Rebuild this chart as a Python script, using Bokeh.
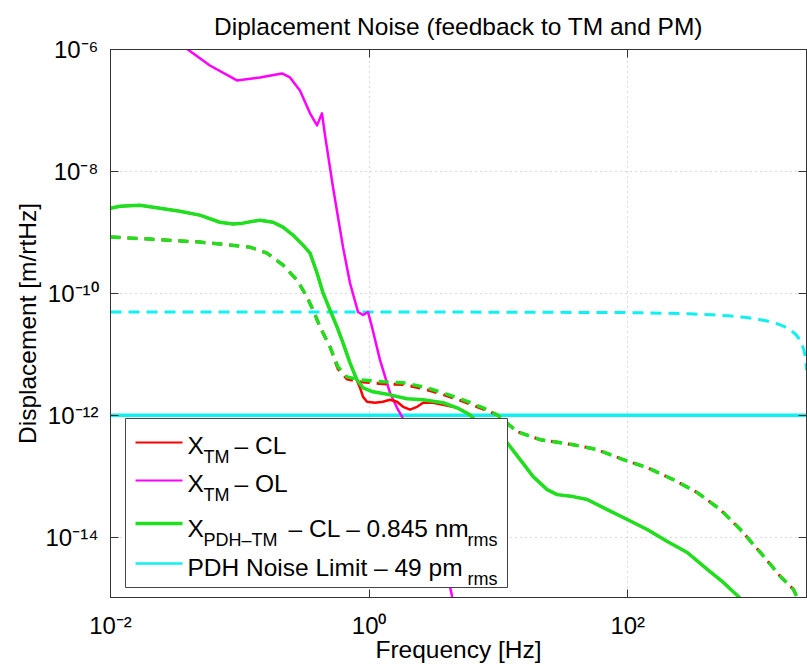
from bokeh.plotting import figure
from bokeh.models import (LogAxis, FixedTicker, CustomJSTickFormatter, Label,
                          BoxAnnotation, Range1d)
from bokeh.embed import file_html
from bokeh.resources import INLINE

FONT = "Liberation Sans"

# ---------------- texts ----------------
title_text = "Diplacement Noise (feedback to TM and PM)"
x_axis_label = "Frequency [Hz]"
y_axis_label = "Displacement [m/rtHz]"

x_ticks = [1e-2, 1e0, 1e2]
x_tick_labels = ["10⁻²", "10⁰", "10²"]
y_ticks = [1e-14, 1e-12, 1e-10, 1e-8, 1e-6]
y_tick_labels = ["10⁻¹⁴", "10⁻¹²", "10⁻¹⁰", "10⁻⁸", "10⁻⁶"]

x_limits = [0.01, 2410]
y_limits = [1.03e-15, 1e-6]

# ---------------- data ----------------
# X_PDH-TM closed loop (green solid)
freq_pdh_cl = [0.01, 0.0118, 0.0169, 0.0241, 0.0344, 0.0491, 0.0701, 0.0885, 0.1057, 0.1431,
               0.1804, 0.2157, 0.2576, 0.3082, 0.3492, 0.3954, 0.4399, 0.498, 0.5645, 0.6281,
               0.7112, 0.8054, 0.8974, 1.072, 1.45, 1.964, 2.614, 3.734, 4.791, 6.036,
               7.614, 8.63, 11.68, 14.72, 18.55, 23.81, 28.47, 37.86, 48.58, 69.36,
               99.1, 141.5, 202.2, 288.6, 412.3, 548.3, 716.1, 811]
disp_pdh_cl = [2.50e-9, 2.69e-9, 2.80e-9, 2.50e-9, 2.23e-9, 1.92e-9, 1.47e-9, 1.37e-9, 1.42e-9, 1.59e-9,
               1.47e-9, 1.22e-9, 9.04e-10, 6.19e-10, 4.58e-10, 2.16e-10, 1.02e-10, 5.35e-11, 2.82e-11, 1.54e-11,
               7.26e-12, 3.83e-12, 2.83e-12, 2.43e-12, 2.17e-12, 1.87e-12, 1.80e-12, 1.61e-12, 1.33e-12, 1.02e-12,
               5.81e-13, 4.82e-13, 3.56e-13, 1.88e-13, 9.89e-14, 6.06e-14, 5.01e-14, 4.65e-14, 4.16e-14, 2.85e-14,
               1.96e-14, 1.34e-14, 8.54e-15, 5.64e-15, 2.97e-15, 1.82e-15, 1.07e-15, 7.94e-16]

# X_TM closed loop (red solid)
freq_tm_cl = [0.01, 0.0118, 0.0169, 0.0241, 0.0344, 0.0491, 0.0701, 0.0885, 0.1057, 0.1431,
              0.1804, 0.2157, 0.2576, 0.3082, 0.3492, 0.3954, 0.4399, 0.498, 0.5645, 0.6281,
              0.7112, 0.8054, 0.8511, 0.8974, 0.9638, 1.109, 1.28, 1.45, 1.643, 1.83,
              2.073, 2.349, 2.614, 3.124, 3.734, 4.791, 6.036, 7.614, 8.63, 11.68,
              14.72, 18.55, 23.81, 28.47, 37.86, 48.58, 69.36, 99.1, 141.5, 202.2,
              288.6, 412.3, 548.3, 716.1, 811]
disp_tm_cl = [2.50e-9, 2.69e-9, 2.80e-9, 2.50e-9, 2.23e-9, 1.92e-9, 1.47e-9, 1.37e-9, 1.42e-9, 1.59e-9,
              1.47e-9, 1.22e-9, 9.04e-10, 6.19e-10, 4.58e-10, 2.16e-10, 1.02e-10, 5.35e-11, 2.82e-11, 1.54e-11,
              7.26e-12, 3.70e-12, 2.83e-12, 2.01e-12, 1.67e-12, 1.61e-12, 1.67e-12, 1.80e-12, 1.67e-12, 1.38e-12,
              1.24e-12, 1.38e-12, 1.61e-12, 1.61e-12, 1.49e-12, 1.33e-12, 1.02e-12, 5.81e-13, 4.82e-13, 3.56e-13,
              1.88e-13, 9.89e-14, 6.06e-14, 5.01e-14, 4.65e-14, 4.16e-14, 2.85e-14, 1.96e-14, 1.34e-14, 8.54e-15,
              5.64e-15, 2.97e-15, 1.82e-15, 1.07e-15, 7.94e-16]

# X_TM open loop (magenta)
freq_tm_ol = [0.0201, 0.0396, 0.0587, 0.095, 0.1431, 0.2118, 0.2443, 0.2918, 0.3492, 0.3954,
              0.4319, 0.456, 0.5255, 0.6281, 0.7112, 0.8204, 0.8974, 0.9795, 1.052, 1.213,
              1.45, 1.643, 1.798, 2.266, 2.96, 3.868, 4.384, 4.71]
disp_tm_ol = [2.87e-6, 1.0e-6, 5.47e-7, 3.11e-7, 3.48e-7, 4.05e-7, 3.48e-7, 2.13e-7, 8.97e-8, 5.70e-8,
              8.97e-8, 3.91e-8, 5.51e-9, 5.74e-10, 1.48e-10, 4.96e-11, 4.43e-11, 4.96e-11, 2.82e-11, 8.13e-12,
              2.34e-12, 1.33e-12, 9.48e-13, 2.54e-13, 3.44e-14, 3.59e-15, 1.07e-15, 6.0e-16]

# cumulative rms curves (dashed)
freq_rms = [0.01, 0.0201, 0.0491, 0.1198, 0.1622, 0.2157, 0.2767, 0.3307, 0.3684, 0.417,
            0.498, 0.5741, 0.6745, 0.8511, 1.28, 1.83, 2.614, 3.734, 5.331, 7.614,
            9.773, 13.96, 21.01, 37.86, 58.05, 92.26, 141.5, 225.0, 345.0, 519.6,
            742.3, 1061, 1515, 1910, 2163]
disp_pdh_rms = [8.38e-10, 7.77e-10, 6.94e-10, 5.74e-10, 4.58e-10, 2.92e-10, 1.66e-10, 8.73e-11, 5.35e-11, 2.82e-11,
                1.33e-11, 6.24e-12, 4.28e-12, 3.83e-12, 3.55e-12, 3.42e-12, 2.94e-12, 2.34e-12, 1.80e-12, 1.33e-12,
                1.02e-12, 5.40e-13, 3.99e-13, 3.30e-13, 2.74e-13, 1.88e-13, 1.39e-13, 8.83e-14, 5.41e-14, 2.85e-14,
                1.34e-14, 5.64e-15, 2.28e-15, 1.40e-15, 7.94e-16]
disp_tm_rms = [8.38e-10, 7.77e-10, 6.94e-10, 5.74e-10, 4.58e-10, 2.92e-10, 1.66e-10, 8.73e-11, 5.35e-11, 2.82e-11,
               1.33e-11, 5.8e-12, 3.95e-12, 3.55e-12, 3.3e-12, 3.2e-12, 2.75e-12, 2.2e-12, 1.7e-12, 1.27e-12,
               1.02e-12, 5.40e-13, 3.99e-13, 3.30e-13, 2.74e-13, 1.88e-13, 1.39e-13, 8.83e-14, 5.41e-14, 2.85e-14,
               1.34e-14, 5.64e-15, 2.28e-15, 1.40e-15, 7.94e-16]

# PDH noise limit (cyan)
freq_limit = [0.01, 2410]
disp_limit = [1e-12, 1e-12]
freq_limit_rms = [0.01, 1, 10, 100, 200, 300, 450, 600, 800, 1000, 1200, 1400, 1600, 1800,
                  2000, 2100, 2200, 2300, 2350, 2380, 2400, 2410]
disp_limit_rms = [4.94e-11, 4.94e-11, 4.93e-11, 4.84e-11, 4.73e-11, 4.63e-11, 4.46e-11, 4.29e-11,
                  4.05e-11, 3.79e-11, 3.52e-11, 3.22e-11, 2.90e-11, 2.53e-11, 2.10e-11, 1.84e-11,
                  1.55e-11, 1.18e-11, 9.5e-12, 7.7e-12, 6.3e-12, 5.5e-12]

# legend entries: (main text, subscript, text after subscript, trailing subscript)
legend_rows = [
    ("X", "TM", "– CL", ""),
    ("X", "TM", "– OL", ""),
    ("X", "PDH–TM", "– CL – 0.845 nm", "rms"),
    ("PDH Noise Limit – 49 pm", "", "", "rms"),
]

RED = "#FF0000"
MAGENTA = "#FF00FF"
GREEN = "#1EE01E"
CYAN = "#10F0F0"
legend_colors = [RED, MAGENTA, GREEN, CYAN]
legend_widths = [2, 2, 3.5, 2.5]

# ---------------- figure ----------------
p = figure(frame_width=696, frame_height=548, x_axis_type="log", y_axis_type="log",
           x_range=Range1d(*x_limits), y_range=Range1d(*y_limits),
           output_backend="svg", toolbar_location=None, title=title_text,
           min_border_left=110, min_border_right=1, min_border_top=49, min_border_bottom=68)
p.background_fill_color = "white"
p.border_fill_color = "white"
p.outline_line_color = "#333333"
p.outline_line_width = 1

p.title.text_font = FONT
p.title.text_font_size = "24.5px"
p.title.text_font_style = "normal"
p.title.text_color = "black"
p.title.align = "center"
p.title.standoff = 19


def fmt(tick_vals, tick_texts):
    return CustomJSTickFormatter(args=dict(tvals=tick_vals, ttexts=tick_texts), code="""
        let best = 0, bd = Infinity;
        for (let i = 0; i < tvals.length; i++) {
            const d = Math.abs(Math.log10(tick) - Math.log10(tvals[i]));
            if (d < bd) { bd = d; best = i; }
        }
        return ttexts[best];
    """)


for ax, tv, tt, lab in ((p.xaxis[0], x_ticks, x_tick_labels, x_axis_label),
                        (p.yaxis[0], y_ticks, y_tick_labels, y_axis_label)):
    ax.ticker = FixedTicker(ticks=tv)
    ax.formatter = fmt(tv, tt)
    ax.axis_label = lab
    ax.major_tick_in = 8
    ax.major_tick_out = 0
    ax.minor_tick_in = 0
    ax.minor_tick_out = 0
    ax.major_label_text_font = FONT
    ax.major_label_text_font_size = "24px"
    ax.major_label_text_color = "black"
    ax.axis_label_text_font = FONT
    ax.axis_label_text_font_size = "24.5px"
    ax.axis_label_text_font_style = "normal"
    ax.axis_label_text_color = "black"
    ax.axis_line_color = "#333333"
    ax.major_tick_line_color = "#333333"

p.xaxis[0].major_label_standoff = 14
p.xaxis[0].axis_label_standoff = -6
p.yaxis[0].major_label_standoff = 12
p.yaxis[0].axis_label_standoff = 2

for loc, tv in (("right", y_ticks), ("above", x_ticks)):
    extra = LogAxis(ticker=FixedTicker(ticks=tv),
                    formatter=CustomJSTickFormatter(code="return ''"),
                    major_tick_in=8, major_tick_out=0, minor_tick_in=0, minor_tick_out=0,
                    major_label_standoff=0, major_label_text_font_size="0px",
                    axis_line_color="#333333", major_tick_line_color="#333333")
    p.add_layout(extra, loc)

p.xgrid.ticker = FixedTicker(ticks=x_ticks)
p.ygrid.ticker = FixedTicker(ticks=y_ticks)
p.grid.grid_line_color = "#b4b4b4"
p.grid.grid_line_dash = "1 4"
p.grid.grid_line_width = 1

# ---------------- curves ----------------
p.line(freq_limit_rms, disp_limit_rms, line_color=CYAN, line_width=3, line_dash="11 7")
p.line(freq_limit, disp_limit, line_color=CYAN, line_width=3.5)
p.line(freq_tm_ol, disp_tm_ol, line_color=MAGENTA, line_width=2.5, line_join="round")
p.line(freq_rms, disp_tm_rms, line_color=RED, line_width=3, line_dash="10 7", line_join="round")
p.line(freq_tm_cl, disp_tm_cl, line_color=RED, line_width=2.5, line_join="round")
p.line(freq_rms, disp_pdh_rms, line_color=GREEN, line_width=3.5, line_dash="10 7", line_join="round")
p.line(freq_pdh_cl, disp_pdh_cl, line_color=GREEN, line_width=3.5, line_join="round")

# ---------------- legend (drawn by hand for subscripts) ----------------
FRAME_LEFT, FRAME_BOTTOM = 110, 597


def sx(px):
    return px - FRAME_LEFT


def sy(py):
    return FRAME_BOTTOM - py


p.add_layout(BoxAnnotation(left=sx(125), right=sx(507), top=sy(418), bottom=sy(587),
                           left_units="screen", right_units="screen",
                           top_units="screen", bottom_units="screen",
                           fill_color="white", fill_alpha=1.0,
                           line_color="#444444", line_width=1, line_alpha=1.0))

row_sample_y = [442, 480, 523, 563]
row_base_y = [445, 483, 528, 567]
for (main, sub, tail, tail_sub), col, lw, ly, by in zip(legend_rows, legend_colors, legend_widths,
                                                        row_sample_y, row_base_y):
    p.add_layout(BoxAnnotation(left=sx(135), right=sx(182), top=sy(ly - lw / 2), bottom=sy(ly + lw / 2),
                               left_units="screen", right_units="screen",
                               top_units="screen", bottom_units="screen",
                               fill_color=col, fill_alpha=1.0, line_alpha=0))
    p.add_layout(Label(x=sx(187), y=sy(by), x_units="screen", y_units="screen", text=main,
                       text_font=FONT, text_font_size="24.5px", text_baseline="alphabetic",
                       text_color="black"))
    if sub:
        p.add_layout(Label(x=sx(203), y=sy(by + 11), x_units="screen", y_units="screen", text=sub,
                           text_font=FONT, text_font_size="18px", text_baseline="alphabetic",
                           text_color="black"))
    if tail:
        tx = 234 if sub == "TM" else 288
        p.add_layout(Label(x=sx(tx), y=sy(by), x_units="screen", y_units="screen", text=tail,
                           text_font=FONT, text_font_size="24.5px", text_baseline="alphabetic",
                           text_color="black"))
    if tail_sub:
        p.add_layout(Label(x=sx(467), y=sy(by + 11), x_units="screen", y_units="screen", text=tail_sub,
                           text_font=FONT, text_font_size="18px", text_baseline="alphabetic",
                           text_color="black"))

open("out.html", "w").write(file_html(p, INLINE))
